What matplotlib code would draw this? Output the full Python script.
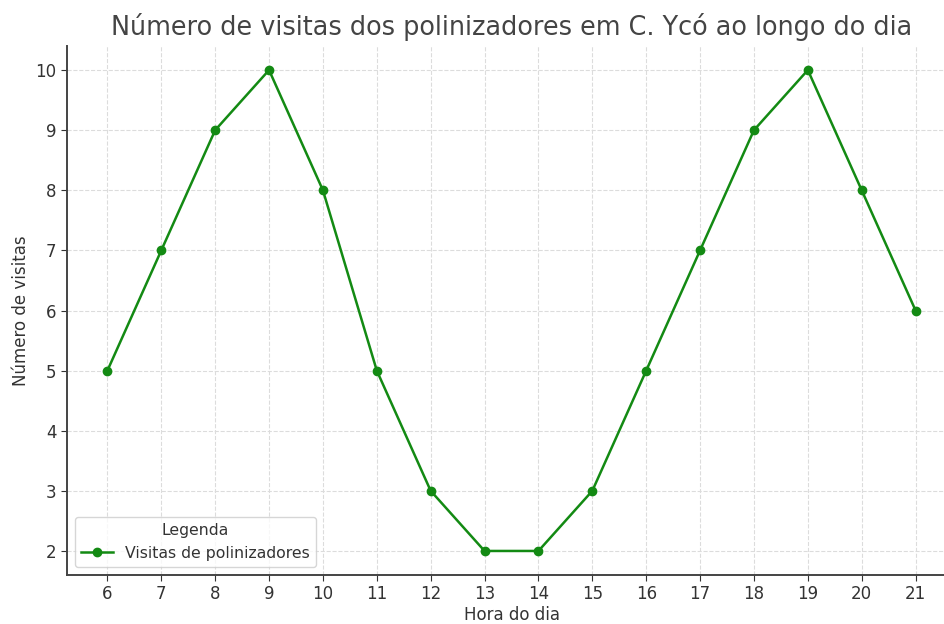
import matplotlib
matplotlib.use("Agg")
import matplotlib.pyplot as plt

horas = [6, 7, 8, 9, 10, 11, 12, 13, 14, 15, 16, 17, 18, 19, 20, 21]
visitas = [5, 7, 9, 10, 8, 5, 3, 2, 2, 3, 5, 7, 9, 10, 8, 6]

fig = plt.figure(figsize=(9.44, 6.24), dpi=100)
ax = fig.add_axes([67/944, 49/624, (956-67)/944, (578-49)/624])

ax.plot(horas, visitas, marker='o', color='#138a13', linewidth=1.8, markersize=6,
        label='Visitas de polinizadores')

ax.set_title('Número de visitas dos polinizadores em C. Ycó ao longo do dia',
             fontsize=18.4, color='#444444', pad=8)
ax.set_xlabel('Hora do dia', fontsize=12, color='#333333', labelpad=2)
ax.set_ylabel('Número de visitas', fontsize=12, color='#333333')
ax.set_xticks(horas)
ax.tick_params(labelsize=12, colors='#333333', length=4)
ax.grid(True, linestyle='--', color='#dcdcdc', linewidth=0.8)
for s in ['top', 'right']:
    ax.spines[s].set_visible(False)
for s in ['left', 'bottom']:
    ax.spines[s].set_color('#444444')
    ax.spines[s].set_linewidth(1.4)

leg = ax.legend(title='Legenda', loc='lower left', fontsize=11.3, title_fontsize=11.3)
for t in leg.get_texts():
    t.set_color('#333333')
leg.get_title().set_color('#333333')

fig.savefig('out.png', dpi=100)
